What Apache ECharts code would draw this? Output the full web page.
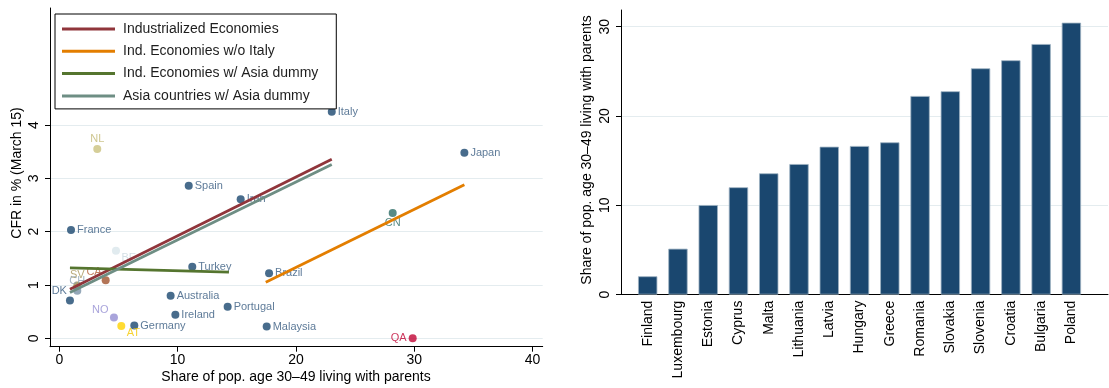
<!DOCTYPE html>
<html>
<head>
<meta charset="utf-8">
<script src="https://cdn.jsdelivr.net/npm/echarts@6/dist/echarts.min.js"></script>
<style>
  html, body { margin: 0; padding: 0; background: #ffffff; }
  #chart { width: 1109px; height: 388px; }
</style>
</head>
<body>
<div id="chart"></div>
<script>
// ---- Left panel: case fatality rate vs. share of 30–49 year-olds living with parents
const cfrNames = ['Italy', 'Japan', 'Spain', 'Iran', 'CN', 'QA', 'Malaysia', 'Brazil', 'Turkey', 'France', 'NL',
                  'BE', 'CA', 'SV', 'CH', 'DK', 'NO', 'AT', 'Germany', 'Australia', 'Ireland', 'Portugal'];
const cfrShare = [23.03, 34.24, 10.94, 15.33, 28.18, 29.87, 17.53, 17.73, 11.24, 0.99, 3.21,
                  4.79, 3.92, 1.52, 1.52, 0.90, 4.62, 5.24, 6.34, 9.41, 9.81, 14.23];
const cfrRate  = [4.25, 3.48, 2.86, 2.61, 2.35, 0.00, 0.22, 1.22, 1.34, 2.03, 3.55,
                  1.64, 1.09, 0.99, 0.89, 0.71, 0.39, 0.23, 0.24, 0.80, 0.44, 0.59];

// Fitted lines (end points of each fit)
const fitNames = ['Industrialized Economies', 'Ind. Economies w/o Italy',
                  'Ind. Economies w/ Asia dummy', 'Asia countries w/ Asia dummy'];
const fitX = [[0.90, 23.03], [17.45, 34.24], [0.90, 14.34], [0.90, 23.03]];
const fitY = [[0.92, 3.36], [1.05, 2.88], [1.32, 1.24], [0.86, 3.26]];

const leftXTicks = [0, 10, 20, 30, 40];
const leftYTicks = [0, 1, 2, 3, 4];

// ---- Right panel: share of 30–49 year-olds living with parents, by country
const countries = ['Finland', 'Luxembourg', 'Estonia', 'Cyprus', 'Malta', 'Lithuania', 'Latvia', 'Hungary',
                   'Greece', 'Romania', 'Slovakia', 'Slovenia', 'Croatia', 'Bulgaria', 'Poland'];
const shares = [2.05, 5.14, 10.03, 12.02, 13.58, 14.62, 16.56, 16.64,
                17.05, 22.24, 22.77, 25.34, 26.24, 28.06, 30.45];
const rightYTicks = [0, 10, 20, 30];

// ---- Styling
const FONT = '"Liberation Sans", Arial, sans-serif';
const NAVY = '#1a476f';
const GRID_LINE = '#e4ecef';
const MARKER = 8;
const fitColors = ['#90353b', '#e37e00', '#55752f', '#6e8e84'];

// marker colour, label colour, label placement (dx, dy from the marker centre, alignment)
const pointStyle = {
  default: { c: NAVY, lc: '#34597e', dx: 6, dy: 0, align: 'left' },
  CN: { c: '#2d6d66', lc: '#2d6d66', dx: 0, dy: 10, align: 'center' },
  QA: { c: '#c10534', lc: '#c10534', dx: -6, dy: 0, align: 'right' },
  NL: { c: '#cac27e', lc: '#c2b873', dx: 0, dy: -10.5, align: 'center' },
  BE: { c: '#d9e6eb', lc: '#c8d7df', dx: 5.5, dy: 7.5, align: 'left' },
  CA: { c: '#a0522d', lc: '#b5603a', dx: -4, dy: -8.5, align: 'right' },
  SV: { c: '#9c8847', lc: '#a8955a', dx: 0, dy: -10.5, align: 'center' },
  CH: { c: '#7b92a8', lc: '#8da2b5', dx: 0, dy: -9.5, align: 'center' },
  DK: { c: NAVY, lc: '#34597e', dx: -3, dy: -9.5, align: 'right' },
  NO: { c: '#938dd2', lc: '#938dd2', dx: -5.5, dy: -7.5, align: 'right' },
  AT: { c: '#ffd200', lc: '#f5c800', dx: 5.5, dy: 7, align: 'left' }
};

const scatterData = cfrNames.map((name, i) => {
  const s = pointStyle[name] || pointStyle.default;
  return {
    name: name,
    value: [cfrShare[i], cfrRate[i]],
    itemStyle: { color: s.c },
    label: {
      show: true,
      formatter: name,
      // position is relative to the marker's bounding box
      position: [MARKER / 2 + s.dx, MARKER / 2 + s.dy],
      align: s.align,
      verticalAlign: 'middle',
      color: s.lc,
      fontFamily: FONT,
      fontSize: 11
    }
  };
});

const fitSeries = fitNames.map((name, k) => ({
  name: name,
  type: 'line',
  xAxisIndex: 0,
  yAxisIndex: 0,
  data: fitX[k].map((x, j) => [x, fitY[k][j]]),
  showSymbol: false,
  symbol: 'none',
  lineStyle: { color: fitColors[k], width: 2.8 },
  itemStyle: { color: fitColors[k] },
  z: 5 + k,
  silent: true,
  animation: false
}));

const axisText = { color: '#000', fontFamily: FONT, fontSize: 14 };

const option = {
  animation: false,
  backgroundColor: '#ffffff',
  textStyle: { fontFamily: FONT },
  grid: [
    { left: 50, top: 8, width: 492.7, height: 338.7 },
    { left: 621, top: 10, width: 487, height: 284.6 }
  ],
  legend: {
    data: fitNames,
    orient: 'vertical',
    left: 55,
    top: 14,
    padding: [7, 18, 5, 7],
    itemGap: 6.3,
    itemWidth: 53,
    itemHeight: 3,
    icon: 'rect',
    borderColor: '#000',
    borderWidth: 1,
    backgroundColor: '#ffffff',
    textStyle: { color: '#1e1e1e', fontFamily: FONT, fontSize: 14, lineHeight: 16, padding: [0, 0, 0, 3] },
    selectedMode: false
  },
  xAxis: [
    {
      gridIndex: 0, type: 'value', min: -0.786, max: 40.86,
      axisLine: { show: true, onZero: false, lineStyle: { color: '#000', width: 1 } },
      axisTick: { show: true, length: 5, lineStyle: { color: '#000' }, customValues: leftXTicks },
      axisLabel: Object.assign({ margin: 6, customValues: leftXTicks }, axisText),
      splitLine: { show: false }
    },
    {
      gridIndex: 1, type: 'value', min: -0.882, max: 15.21,
      axisLine: { show: true, onZero: false, lineStyle: { color: '#000', width: 1 } },
      axisTick: { show: false, customValues: countries.map((c, i) => i) },
      axisLabel: Object.assign({
        margin: 6, rotate: 90,
        customValues: countries.map((c, i) => i),
        formatter: v => countries[Math.round(v)] || ''
      }, axisText),
      splitLine: { show: false }
    }
  ],
  yAxis: [
    {
      gridIndex: 0, type: 'value', min: -0.158, max: 6.197,
      axisLine: { show: true, onZero: false, lineStyle: { color: '#000', width: 1 } },
      axisTick: { show: true, length: 5, lineStyle: { color: '#000' }, customValues: leftYTicks },
      axisLabel: Object.assign({ margin: 9, rotate: 90, customValues: leftYTicks }, axisText),
      splitLine: { show: true, lineStyle: { color: GRID_LINE, width: 1 } }
    },
    {
      gridIndex: 1, type: 'value', min: 0, max: 31.87,
      axisLine: { show: true, onZero: false, lineStyle: { color: '#000', width: 1 } },
      axisTick: { show: true, length: 5, lineStyle: { color: '#000' }, customValues: rightYTicks },
      axisLabel: Object.assign({ margin: 9, rotate: 90, customValues: rightYTicks }, axisText),
      splitLine: { show: true, lineStyle: { color: GRID_LINE, width: 1 } }
    }
  ],
  graphic: [
    { type: 'text', x: 17, y: 173, rotation: Math.PI / 2,
      style: { text: 'CFR in % (March 15)', fill: '#000', font: '14px ' + FONT, align: 'center', verticalAlign: 'middle' } },
    { type: 'text', x: 296, y: 377,
      style: { text: 'Share of pop. age 30\u201349 living with parents', fill: '#000', font: '14px ' + FONT, align: 'center', verticalAlign: 'middle' } },
    { type: 'text', x: 587, y: 150, rotation: Math.PI / 2,
      style: { text: 'Share of pop. age 30\u201349 living with parents', fill: '#000', font: '14px ' + FONT, align: 'center', verticalAlign: 'middle' } }
  ],
  series: [
    {
      name: 'countries',
      type: 'scatter',
      xAxisIndex: 0,
      yAxisIndex: 0,
      symbol: 'circle',
      symbolSize: MARKER,
      data: scatterData,
      z: 3,
      labelLayout: { hideOverlap: false }
    }
  ].concat(fitSeries).concat([
    {
      name: 'share',
      type: 'bar',
      xAxisIndex: 1,
      yAxisIndex: 1,
      barWidth: 19.3,
      data: shares.map((v, i) => [i, v]),
      itemStyle: { color: NAVY, borderColor: '#9db1c2', borderWidth: 0.8 },
      z: 3
    }
  ])
};

const chart = echarts.init(document.getElementById('chart'), null, { renderer: 'canvas' });
chart.setOption(option);
</script>
</body>
</html>
